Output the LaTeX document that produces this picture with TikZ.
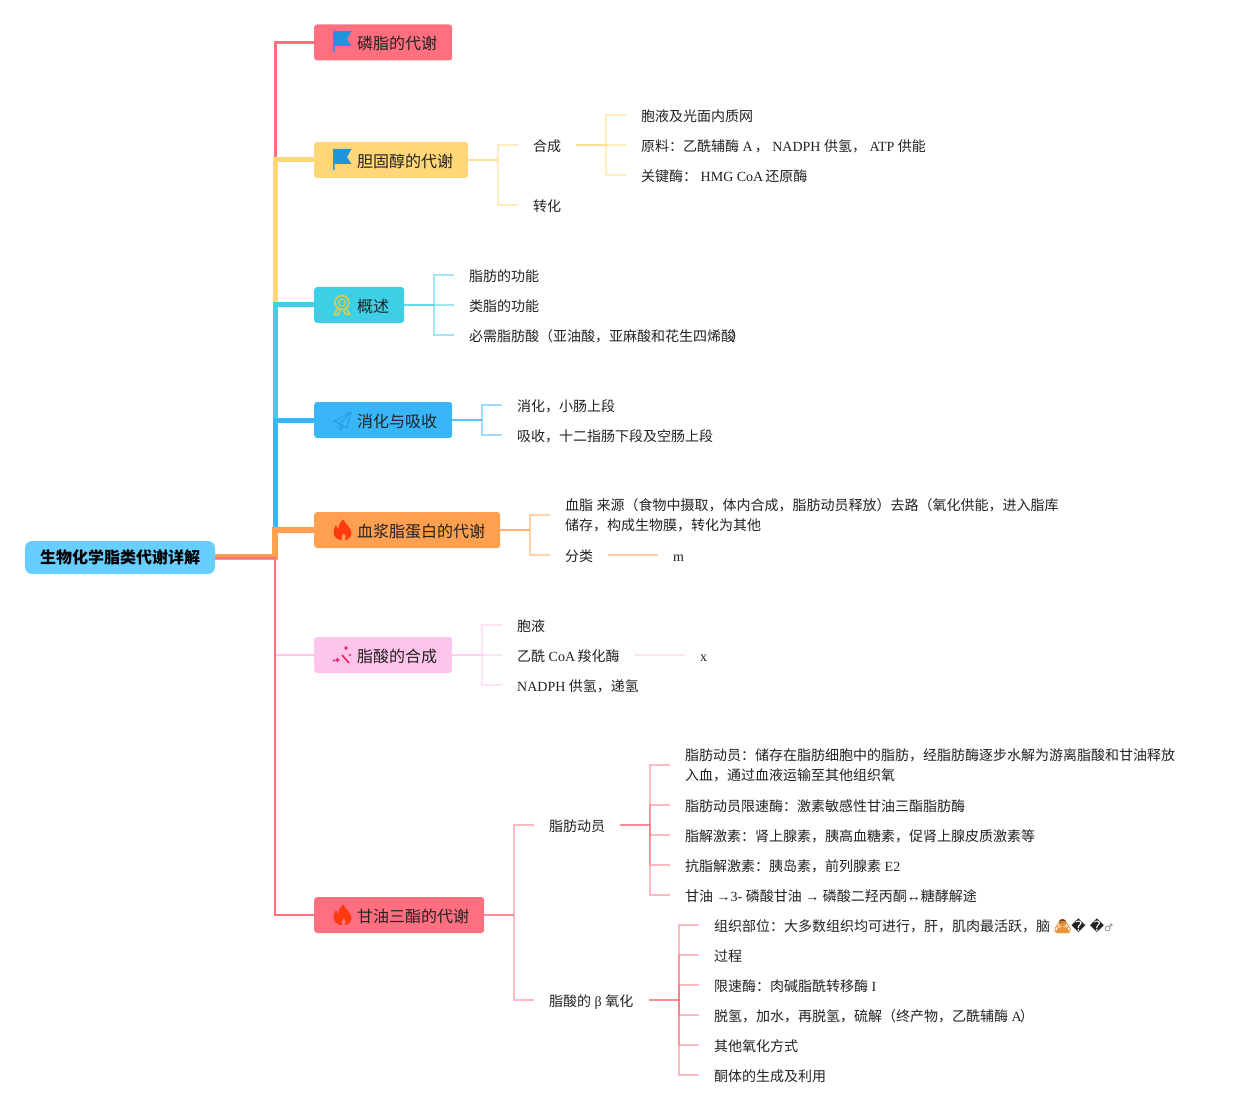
\documentclass[tikz,border=0pt]{standalone}
\usepackage{fontspec}
\setmainfont{Noto Sans CJK SC}
\newfontfamily\latinfont{Liberation Serif}
\newfontfamily\emojifont[FakeBold=1]{Noto Emoji}
\newfontfamily\symfont{DejaVu Sans}
\newcommand\lt[1]{{\latinfont #1}}
\definecolor{cRoot}{HTML}{66CFFF}
\definecolor{cRed}{HTML}{FF6F7F}
\definecolor{cYel}{HTML}{FFD778}
\definecolor{cCya}{HTML}{3DCFE6}
\definecolor{cBlu}{HTML}{38B6F8}
\definecolor{cOra}{HTML}{FF9F50}
\definecolor{cPin}{HTML}{FFC4EA}
\definecolor{cFlag}{HTML}{1E96DE}
\definecolor{cTxt}{HTML}{222222}
\definecolor{cEmo}{HTML}{E8923A}
\tikzset{
  x=1pt,y=1pt,
  rootbox/.style={rectangle,rounded corners=7pt,fill=cRoot,minimum width=190pt,minimum height=33pt,inner sep=0pt,font=\fontsize{16}{20}\selectfont\bfseries,text=black},
  topic/.style={rectangle,rounded corners=3pt,anchor=west,fill=#1,minimum height=36pt,inner ysep=0pt,inner xsep=15pt,text height=17pt,text depth=2pt,font=\fontsize{16}{20}\selectfont,text=cTxt},
  leaf/.style={anchor=west,inner xsep=15pt,inner ysep=0pt,text height=15.6pt,text depth=2pt,font=\fontsize{14}{20}\selectfont,text=cTxt},
  leaftwo/.style={anchor=west,inner xsep=15pt,inner ysep=0pt,align=left,font=\fontsize{14}{20}\selectfont,text=cTxt},
  flagicon/.pic={
    \fill[cFlag] (0,0) -- (18.5,0) -- (14,-8) -- (18.5,-15) -- (1.5,-15) -- (1.5,-21) -- (0,-21) -- cycle;
  },
  rosette/.pic={
    \draw[line width=1.6pt,#1] (0,0) circle (7);
    \draw[line width=1.4pt,#1] (0,0) circle (3.5);
    \draw[line width=1.6pt,#1,line join=round] (-4.5,-6.5) -- (-8,-12) -- (-4,-12) -- (-1.5,-8);
    \draw[line width=1.6pt,#1,line join=round] (4.5,-6.5) -- (8,-12) -- (4,-12) -- (1.5,-8);
  },
  plane/.pic={
    \draw[line width=1.2pt,#1,line join=round] (17,9) -- (0,0) -- (6,-3) -- cycle;
    \draw[line width=1.2pt,#1,line join=round] (17,9) -- (13,-7) -- (6,-3);
    \draw[line width=1.2pt,#1,line join=round] (6,-3) -- (6,-9) -- (9,-5);
  },
  flame/.pic={
    \fill[#1] (1,10.5) .. controls (2,6) and (9,3) .. (9,-3) .. controls (9,-7.5) and (5,-10) .. (2.5,-10)
       .. controls (4,-8) and (3.5,-5.5) .. (1,-3) .. controls (-1,-5.5) and (-1.5,-8) .. (-.5,-10)
       .. controls (-5,-10) and (-9,-7) .. (-9,-2) .. controls (-9,1) and (-7.5,3) .. (-6.5,5)
       .. controls (-5.5,3) and (-5,2) .. (-4,1.5) .. controls (-4,6) and (-1.5,9) .. (1,10.5) -- cycle;
  },
  wand/.pic={
    \draw[line width=1.6pt,#1] (0,0) -- (7,-8);
    \fill[#1] (-4.5,-2.5) -- (-3.6,-4.1) -- (-2,-5) -- (-3.6,-5.9) -- (-4.5,-7.5) -- (-5.4,-5.9) -- (-7,-5) -- (-5.4,-4.1) -- cycle;
    \fill[#1] (-8,-4) -- (-7.5,-5) -- (-6.5,-5.5) -- (-7.5,-6) -- (-8,-7) -- (-8.5,-6) -- (-9.5,-5.5) -- (-8.5,-5) -- cycle;
    \fill[#1] (4,9.5) -- (4.8,7.8) -- (6.5,7) -- (4.8,6.2) -- (4,4.5) -- (3.2,6.2) -- (1.5,7) -- (3.2,7.8) -- cycle;
    \fill[#1] (8,1.5) -- (8.5,.5) -- (9.5,0) -- (8.5,-.5) -- (8,-1.5) -- (7.5,-.5) -- (6.5,0) -- (7.5,.5) -- cycle;
  },
  personfill/.pic={
    \fill[cEmo] (0,3) circle (4);
    \fill[cEmo] (-7,-7) .. controls (-6,-2) and (-3,-1) .. (0,-1) .. controls (3,-1) and (6,-2) .. (7,-7) -- cycle;
    \fill[black!60!cEmo] (-4,3) arc (180:0:4) -- (2,4) -- (-2,3.5) -- cycle;
  },
}
\newcommand\trunk[4]{\draw[#1,line width=#2] ([yshift=#4]root.east) -- ([yshift=#4]root.east -| tk) -- (tk |- #3.west) -- (#3.west);}
\newcommand\fan[3]{%
  \draw[line width=2pt,#1,opacity=.8] (#2.east) -- ++(30,0) coordinate (#2b);
  \foreach \l in {#3} \draw[line width=2pt,#1,opacity=.48] (#2b) |- (\l.west);
}
\begin{document}
\begin{tikzpicture}
\useasboundingbox (0,0) rectangle (1245,-1115);
\fill[white] (0,0) rectangle (1245,-1115);
\coordinate (tk) at (275,-557);
\pic at (1062.5,-926) {personfill};
\node[rootbox] (root) at (120,-557.5) {生物化学脂类代谢详解};
\node[topic=cRed] (t1) at (314,-42.5)  {\hspace*{28pt}磷脂的代谢};
\node[topic=cYel] (t2) at (314,-160)   {\hspace*{28pt}胆固醇的代谢};
\node[topic=cCya] (t3) at (314,-305)   {\hspace*{28pt}概述};
\node[topic=cBlu] (t4) at (314,-420)   {\hspace*{28pt}消化与吸收};
\node[topic=cOra] (t5) at (314,-530)   {\hspace*{28pt}血浆脂蛋白的代谢};
\node[topic=cPin] (t6) at (314,-655)   {\hspace*{28pt}脂酸的合成};
\node[topic=cRed] (t7) at (314,-915)   {\hspace*{28pt}甘油三酯的代谢};
% leaves
\node[leaf] (a1) at (518,-145) {合成};
\node[leaf] (a2) at (518,-205) {转化};
\node[leaf] (a11) at (626,-115) {胞液及光面内质网};
\node[leaf] (a12) at (626,-145) {原料：乙酰辅酶\lt{ A}\hspace{2pt}，\lt{ NADPH }供氢，\lt{ ATP }供能};
\node[leaf] (a13) at (626,-175) {关键酶：\lt{ HMG CoA}\hspace{2pt}还原酶};
\node[leaf] (b1) at (454,-275) {脂肪的功能};
\node[leaf] (b2) at (454,-305) {类脂的功能};
\node[leaf] (b3) at (454,-335) {必需脂肪酸（亚油酸，亚麻酸和花生四烯酸\hspace{-4pt}）};
\node[leaf] (c1) at (502,-405) {消化，小肠上段};
\node[leaf] (c2) at (502,-435) {吸收，十二指肠下段及空肠上段};
\node[leaftwo] (d1) at (550,-515) {\vspace*{3pt}血脂\lt{ }来源（食物中摄取，体内合成，脂肪动员释放）去路（氧化供能，进入脂库\\储存，构成生物膜，转化为其他};
\node[leaf] (d2) at (550,-555) {分类};
\node[leaf] (d3) at (658,-555) {\lt{m}};
\node[leaf] (e1) at (502,-625) {胞液};
\node[leaf] (e2) at (502,-655) {乙酰\lt{ CoA }\hspace{-1pt}羧化酶};
\node[leaf] (e3) at (502,-685) {\lt{NADPH }供氢，递氢};
\node[leaf] (e4) at (685,-655) {\lt{x}};
\node[leaf] (f1) at (534,-825) {脂肪动员};
\node[leaf] (f2) at (534,-1000) {脂酸的\lt{ β }氧化};
\node[leaftwo] (g1) at (670,-765) {\vspace*{3pt}脂肪动员：储存在脂肪细胞中的脂肪，经脂肪酶逐步水解为游离脂酸和甘油释放\\入血，通过血液运输至其他组织氧};
\node[leaf] (g2) at (670,-805) {脂肪动员限速酶：激素敏感性甘油三酯脂肪酶};
\node[leaf] (g3) at (670,-835) {脂解激素：肾上腺素，胰高血糖素，促肾上腺皮质激素等};
\node[leaf] (g4) at (670,-865) {抗脂解激素：胰岛素，前列腺素\lt{ E2}};
\node[leaf] (g5) at (670,-895) {甘油\lt{ →3- }磷酸甘油\lt{ → }磷酸二羟丙酮\lt{↔}糖酵解途};
\node[leaf] (h1) at (699,-925) {组织部位：大多数组织均可进行，肝，肌肉最活跃，脑\lt{ }{\emojifont\color{cEmo}🙅}{\symfont\fontsize{14}{20}\selectfont �\hspace{4pt}�\color{gray}\fontsize{10}{20}\selectfont ♂}};
\node[leaf] (h2) at (699,-955) {过程};
\node[leaf] (h3) at (699,-985) {限速酶：肉碱脂酰转移酶\lt{ I}};
\node[leaf] (h4) at (699,-1015) {脱氢，加水，再脱氢，硫解（终产物，乙酰辅酶\lt{ A}\hspace{-2pt}）};
\node[leaf] (h5) at (699,-1045) {其他氧化方式};
\node[leaf] (h6) at (699,-1075) {酮体的生成及利用};
% trunks
\trunk{cRed}{3pt}{t1}{.5pt}
\trunk{cYel}{5pt}{t2}{.5pt}
\trunk{cCya}{5pt}{t3}{.5pt}
\trunk{cBlu}{5pt}{t4}{.5pt}
\trunk{cOra}{5.5pt}{t5}{.5pt}
\trunk{cPin}{2.5pt}{t6}{-.5pt}
\trunk{cRed}{2.5pt}{t7}{-.5pt}
% fans
\fan{cYel}{t2}{a1,a2}
\fan{cYel}{a1}{a11,a12,a13}
\fan{cCya}{t3}{b1,b2,b3}
\fan{cBlu}{t4}{c1,c2}
\fan{cOra}{t5}{d1,d2}
\fan{cPin}{t6}{e1,e2,e3}
\fan{cRed}{t7}{f1,f2}
\fan{cRed}{f1}{g1,g2,g3,g4,g5}
\fan{cRed}{f2}{h1,h2,h3,h4,h5,h6}
\draw[line width=2pt,cOra,opacity=.5] (d2.east) -- (d3.west);
\draw[line width=2pt,cPin,opacity=.5] (e2.east) -- (e4.west);
% icons
\pic at (333,-31) {flagicon};
\pic at (333,-149) {flagicon};
\definecolor{cRos}{HTML}{D9CC4E}
\definecolor{cPlane}{HTML}{2A9DE8}
\definecolor{cFire}{HTML}{FF3A10}
\definecolor{cWand}{HTML}{E8245C}
\pic at (342,-302.5) {rosette=cRos};
\pic at (334,-421) {plane=cPlane};
\pic at (342.5,-530) {flame=cFire};
\pic at (342,-655) {wand=cWand};
\pic at (342.5,-915) {flame=cFire};
\end{tikzpicture}
\end{document}
